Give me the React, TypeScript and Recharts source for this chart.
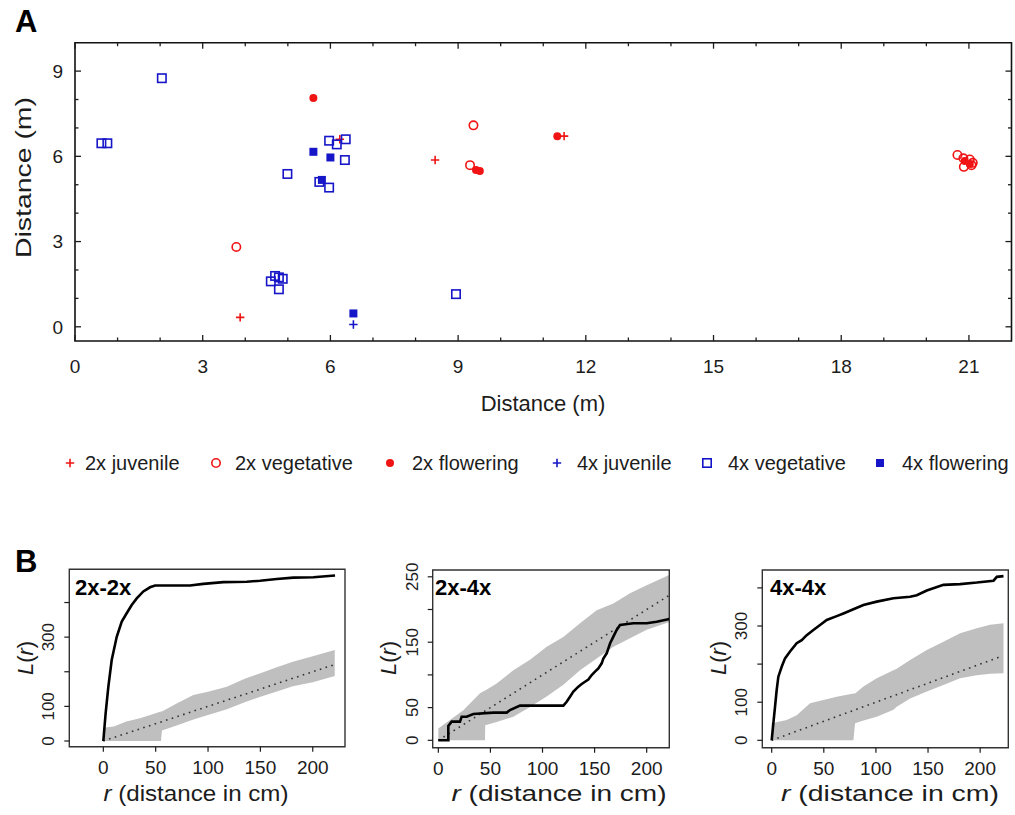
import React from "react"
import { ScatterChart, Scatter, ComposedChart, Line, Area, XAxis, YAxis, ReferenceArea } from "recharts"

// ---- A: plant positions (m) ----
const juv2xX = [3.88, 6.22, 8.46, 11.49]
const juv2xY = [0.33, 6.6, 5.87, 6.71]
const veg2xX = [3.79, 9.36, 9.28, 20.73, 20.87, 21.02, 21.09, 20.88, 21.06]
const veg2xY = [2.81, 7.09, 5.69, 6.05, 5.93, 5.89, 5.77, 5.63, 5.69]
const flw2xX = [5.6, 9.42, 9.51, 11.33, 20.9, 21.02]
const flw2xY = [8.05, 5.52, 5.48, 6.71, 5.84, 5.73]
const juv4xX = [6.54]
const juv4xY = [0.08]
const veg4xX = [2.04, 0.62, 0.76, 5.97, 6.15, 6.36, 6.34, 4.99, 5.74, 5.97, 4.6, 4.7, 4.79, 4.88, 4.79, 8.95]
const veg4xY = [8.75, 6.46, 6.46, 6.55, 6.42, 6.6, 5.87, 5.38, 5.1, 4.9, 1.6, 1.79, 1.74, 1.69, 1.32, 1.15]
const flw4xX = [5.6, 6.0, 5.8, 6.54]
const flw4xY = [6.16, 5.96, 5.17, 0.47]

const xTicksA = [0, 1, 2, 3, 4, 5, 6, 7, 8, 9, 10, 11, 12, 13, 14, 15, 16, 17, 18, 19, 20, 21]
const yTicksA = [0, 1, 2, 3, 4, 5, 6, 7, 8, 9]
const legendLabels = ["2x juvenile", "2x vegetative", "2x flowering", "4x juvenile", "4x vegetative", "4x flowering"]

// ---- B: L(r) curves ----
const obs22R = [0, 2.2, 4.8, 8, 12.8, 17.6, 22.3, 27.1, 31.9, 38.2, 44.6, 49.4, 82.8, 95.5, 114.6, 137, 149.7, 165.6, 181.5, 200.6, 221.3]
const obs22L = [0, 80, 157, 234, 301, 345, 369, 393, 412, 432, 444, 449, 449, 454, 459, 460, 463, 468, 472, 473, 478]
const env22R = [0, 10, 22, 35, 50, 55, 56, 70, 86, 100, 118, 135, 150, 165, 181, 200, 221]
const env22Hi = [38, 42, 56, 66, 80, 85, 85, 108, 133, 142, 157, 180, 196, 212, 229, 245, 263]
const env22Lo = [0, 0, 0, 0, 0, 0, 30, 45, 62, 75, 92, 112, 128, 142, 158, 170, 188]

const obs24R = [0, 9.6, 9.6, 12.8, 20.8, 22.4, 27.2, 33.6, 52.8, 65.6, 68.8, 78.4, 120, 123.2, 126.4, 129.6, 134.4, 137.6, 140.8, 144, 147.2, 150.4, 153.6, 156.8, 158.4, 161.6, 164.8, 168, 171.2, 174.4, 187.2, 200, 209.6, 221.8]
const obs24L = [0, 0, 21.9, 28.5, 28.5, 36.1, 36.1, 40.2, 42.3, 42.3, 46.3, 53, 53, 59, 66.7, 74.4, 82, 86, 89.6, 93, 99.8, 105, 110, 117.7, 125, 133, 148, 158.6, 168.7, 176.3, 178.9, 178.9, 181.4, 185.5]
const env24R = [0, 24, 40, 44.8, 45, 56, 72, 88, 104, 120, 136, 152, 168, 184, 200, 222]
const env24Hi = [18, 46, 72, 76, 76, 87, 107, 123, 143, 158, 179, 199, 209, 225, 237, 253]
const env24Lo = [0, 0, 0, 0, 23, 28, 36, 51, 67, 85, 107, 125, 143, 156, 169, 181]

const obs44R = [0, 1.6, 3.2, 4.8, 6.4, 9.6, 12.8, 17.6, 24, 28.8, 33.6, 40, 46.4, 52.8, 62.4, 68.8, 78.4, 88, 100.8, 116.8, 132.8, 139.2, 148.8, 164.8, 180.8, 196.8, 212.8, 216, 222.4]
const obs44L = [0, 44.6, 88, 132, 167, 193, 215, 233, 255, 263, 276, 289.5, 302.6, 316, 326, 333, 344, 355, 364, 373, 377, 381, 393, 408, 410, 414, 419, 429, 431]
const env44R = [0, 14.4, 24, 36.8, 49.6, 62.4, 78.4, 80, 88, 100.8, 116.8, 120, 132.8, 148.8, 164.8, 180.8, 196.8, 209.6, 222.4]
const env44Hi = [45, 53, 66, 97, 106, 114, 123, 123, 141, 163, 184, 188, 211, 237, 259, 281, 294, 303, 307]
const env44Lo = [0, 0, 0, 0, 0, 0, 0, 45, 52, 62, 80, 88, 110, 128, 145, 163, 171, 175, 176]

// theoretical L(r) = r, dotted
const theoR = [0, 221]
const theoL = [0, 221]

const xTicksB = [0, 50, 100, 150, 200]

const FONT = '"Liberation Sans", Arial, Helvetica, sans-serif'
const INK = "#1c1c1c"
const RED = "#f01414"
const BLUE = "#1616c8"

const zip = (xs: number[], ys: number[]) => xs.map((x, i) => ({ x, y: ys[i] }))

// marker drawers
const plus = (cx: number, cy: number, c: string) => (
  <path d={`M${cx - 4.2},${cy}H${cx + 4.2}M${cx},${cy - 4.2}V${cy + 4.2}`} stroke={c} strokeWidth={1.6} fill="none" />
)
const ring = (cx: number, cy: number, c: string) => <circle cx={cx} cy={cy} r={4.2} stroke={c} strokeWidth={1.6} fill="none" />
const dot = (cx: number, cy: number, c: string) => <circle cx={cx} cy={cy} r={4} fill={c} />
const box = (cx: number, cy: number, c: string) => (
  <rect x={cx - 4.2} y={cy - 4.2} width={8.4} height={8.4} stroke={c} strokeWidth={1.6} fill="none" />
)
const block = (cx: number, cy: number, c: string) => <rect x={cx - 4} y={cy - 4} width={8} height={8} fill={c} />

const shapeOf = (fn: any, c: string) => (p: any) => fn(p.cx, p.cy, c)

const legendMarks = [
  [plus, RED], [ring, RED], [dot, RED], [plus, BLUE], [box, BLUE], [block, BLUE],
] as const
const legendMarkX = [70, 216, 390, 557, 707, 880]
const legendTextX = [85, 235, 412, 577, 728, 902]

function tickA(side: string) {
  return (p: any) => {
    const v = p.payload.value
    const major = v % 3 === 0
    const len = major ? 6 : 3.5
    const { x, y } = p
    const s = { stroke: INK, strokeWidth: 1.3 }
    if (side === "bottom")
      return (
        <g>
          <line x1={x} x2={x} y1={y} y2={y - len} {...s} />
          {major && (
            <text x={x} y={y + 32} textAnchor="middle" fontSize={19} fill={INK} fontFamily={FONT}>{v}</text>
          )}
        </g>
      )
    if (side === "top") return <line x1={x} x2={x} y1={y} y2={y + len} {...s} />
    if (side === "left")
      return (
        <g>
          <line x1={x} x2={x + len} y1={y} y2={y} {...s} />
          {major && (
            <text x={x - 12} y={y + 6.8} textAnchor="end" fontSize={19} fill={INK} fontFamily={FONT}>{v}</text>
          )}
        </g>
      )
    return <line x1={x} x2={x - len} y1={y} y2={y} {...s} />
  }
}

const tickBX = (p: any) => (
  <g>
    <line x1={p.x} x2={p.x} y1={p.y} y2={p.y + 5} stroke={INK} strokeWidth={1.2} />
    <text x={p.x} y={p.y + 27} textAnchor="middle" fontSize={19} fill={INK} fontFamily={FONT}>{p.payload.value}</text>
  </g>
)
const tickBY = (labeled: number[]) => (p: any) => (
  <g>
    <line x1={p.x - 5} x2={p.x} y1={p.y} y2={p.y} stroke={INK} strokeWidth={1.2} />
    {labeled.includes(p.payload.value) && (
      <text transform={`translate(${p.x - 15},${p.y}) rotate(-90)`} textAnchor="middle" fontSize={17} fill={INK} fontFamily={FONT}>
        {p.payload.value}
      </text>
    )}
  </g>
)

// axes need a non-zero size to render, so they get 1px and the margins give it back
const thin = { tickSize: 0, tickMargin: 0, axisLine: false, tickLine: false, interval: 0 as const, allowDataOverflow: true }

function PanelA() {
  const series = [
    { d: zip(juv2xX, juv2xY), fn: plus, c: RED },
    { d: zip(veg2xX, veg2xY), fn: ring, c: RED },
    { d: zip(flw2xX, flw2xY), fn: dot, c: RED },
    { d: zip(juv4xX, juv4xY), fn: plus, c: BLUE },
    { d: zip(veg4xX, veg4xY), fn: box, c: BLUE },
    { d: zip(flw4xX, flw4xY), fn: block, c: BLUE },
  ]
  return (
    <ScatterChart width={1015} height={430} margin={{ top: 41.7, right: 2.5, bottom: 88, left: 74 }}>
      <XAxis type="number" dataKey="x" domain={[0, 22]} ticks={xTicksA} height={1} {...thin} tick={tickA("bottom")} />
      <XAxis xAxisId="top" orientation="top" type="number" dataKey="x" domain={[0, 22]} ticks={xTicksA} height={1} {...thin} tick={tickA("top")} />
      <YAxis type="number" dataKey="y" domain={[-0.5, 10]} ticks={yTicksA} width={1} {...thin} tick={tickA("left")} />
      <YAxis yAxisId="right" orientation="right" type="number" dataKey="y" domain={[-0.5, 10]} ticks={yTicksA} width={1} {...thin} tick={tickA("right")} />
      <ReferenceArea x1={0} x2={22} y1={-0.5} y2={10} fill="none" stroke="#111" strokeWidth={1.6} />
      {series.map((s, i) => (
        <Scatter key={i} data={s.d} shape={shapeOf(s.fn, s.c)} isAnimationActive={false} />
      ))}
    </ScatterChart>
  )
}

function PanelB(props: any) {
  const { left, width, margin, xDomain, yDomain, yTicks, yLabeled, obsR, obsL, envR, envLo, envHi } = props
  const envData = envR.map((r: number, i: number) => ({ r, band: [envLo[i], envHi[i]] }))
  const obsData = obsR.map((r: number, i: number) => ({ r, L: obsL[i] }))
  const theoData = theoR.map((r, i) => ({ r, L: theoL[i] }))
  return (
    <div style={{ position: "absolute", left, top: 540 }}>
      <ComposedChart width={width} height={275} margin={margin} data={envData}>
        <XAxis type="number" dataKey="r" domain={xDomain} ticks={xTicksB} height={1} {...thin} tick={tickBX} />
        <YAxis type="number" domain={yDomain} ticks={yTicks} width={1} {...thin} tick={tickBY(yLabeled)} />
        <Area data={envData} dataKey="band" type="linear" fill="#bfbfbf" fillOpacity={1} stroke="none" isAnimationActive={false} />
        <Line data={theoData} dataKey="L" type="linear" stroke="#333" strokeWidth={1.6} strokeDasharray="1.6 4.4" dot={false} isAnimationActive={false} />
        <Line data={obsData} dataKey="L" type="linear" stroke="#000" strokeWidth={2.6} dot={false} isAnimationActive={false} />
        <ReferenceArea x1={xDomain[0]} x2={xDomain[1]} y1={yDomain[0]} y2={yDomain[1]} fill="none" stroke="#333" strokeWidth={1.4} />
      </ComposedChart>
    </div>
  )
}

const Lr = ({ x, y }: { x: number; y: number }) => (
  <text transform={`translate(${x},${y}) rotate(-90)`} textAnchor="middle" fontSize={22} fill={INK} fontFamily={FONT}>
    <tspan fontStyle="italic">L</tspan>(<tspan fontStyle="italic">r</tspan>)
  </text>
)
const RTitle = ({ cx, len }: { cx: number; len: number }) => (
  <text x={cx} y={801} textAnchor="middle" fontSize={22} fill={INK} fontFamily={FONT} textLength={len} lengthAdjust="spacingAndGlyphs">
    <tspan fontStyle="italic">r</tspan> (distance in cm)
  </text>
)

export default function App() {
  return (
    <div style={{ position: "relative", width: 1015, height: 815, background: "#fff", fontFamily: FONT }}>
      <style>{"body{margin:0}"}</style>
      <div style={{ position: "absolute", left: 0, top: 0 }}>
        <PanelA />
      </div>
      <PanelB left={0} width={350} margin={{ top: 29.3, bottom: 67.3, left: 68.3, right: 5 }}
        xDomain={[-32.5, 230.8]} yDomain={[-16.5, 496]} yTicks={[0, 100, 200, 300, 400]} yLabeled={[0, 100, 300]}
        obsR={obs22R} obsL={obs22L} envR={env22R} envLo={env22Lo} envHi={env22Hi} />
      <PanelB left={360} width={315} margin={{ top: 30, bottom: 66.3, left: 71.7, right: 5.7 }}
        xDomain={[-5.4, 221.7]} yDomain={[-11.3, 260.4]} yTicks={[0, 50, 100, 150, 200, 250]} yLabeled={[0, 50, 150, 250]}
        obsR={obs24R} obsL={obs24L} envR={env24R} envLo={env24Lo} envHi={env24Hi} />
      <PanelB left={690} width={325} margin={{ top: 30, bottom: 66.3, left: 71.3, right: 6.7 }}
        xDomain={[-9, 227]} yDomain={[-19.4, 447]} yTicks={[0, 100, 200, 300, 400]} yLabeled={[0, 100, 300]}
        obsR={obs44R} obsL={obs44L} envR={env44R} envLo={env44Lo} envHi={env44Hi} />
      <svg width={1015} height={815} style={{ position: "absolute", left: 0, top: 0, pointerEvents: "none" }}>
        <text x={15} y={32} fontSize={31} fontWeight="bold" fill="#000" fontFamily={FONT}>A</text>
        <text x={15} y={572} fontSize={31} fontWeight="bold" fill="#000" fontFamily={FONT}>B</text>
        <text x={543} y={411} textAnchor="middle" fontSize={22} fill={INK} fontFamily={FONT}>Distance (m)</text>
        <text transform="translate(31,177.5) rotate(-90)" textAnchor="middle" fontSize={22} fill={INK} fontFamily={FONT}
          textLength={161} lengthAdjust="spacingAndGlyphs">Distance (m)</text>
        {legendLabels.map((lab, i) => {
          const [fn, c] = legendMarks[i]
          return (
            <g key={lab}>
              {fn(legendMarkX[i], 463, c)}
              <text x={legendTextX[i]} y={470} fontSize={20} fill={INK} fontFamily={FONT}>{lab}</text>
            </g>
          )
        })}
        <text x={75} y={595} fontSize={22} fontWeight="bold" fill="#000" fontFamily={FONT}>2x-2x</text>
        <text x={435} y={595} fontSize={22} fontWeight="bold" fill="#000" fontFamily={FONT}>2x-4x</text>
        <text x={770} y={595} fontSize={22} fontWeight="bold" fill="#000" fontFamily={FONT}>4x-4x</text>
        <Lr x={33} y={658} />
        <Lr x={396} y={658} />
        <Lr x={726} y={658} />
        <RTitle cx={196} len={185} />
        <RTitle cx={559} len={215} />
        <RTitle cx={890} len={218} />
      </svg>
    </div>
  )
}
